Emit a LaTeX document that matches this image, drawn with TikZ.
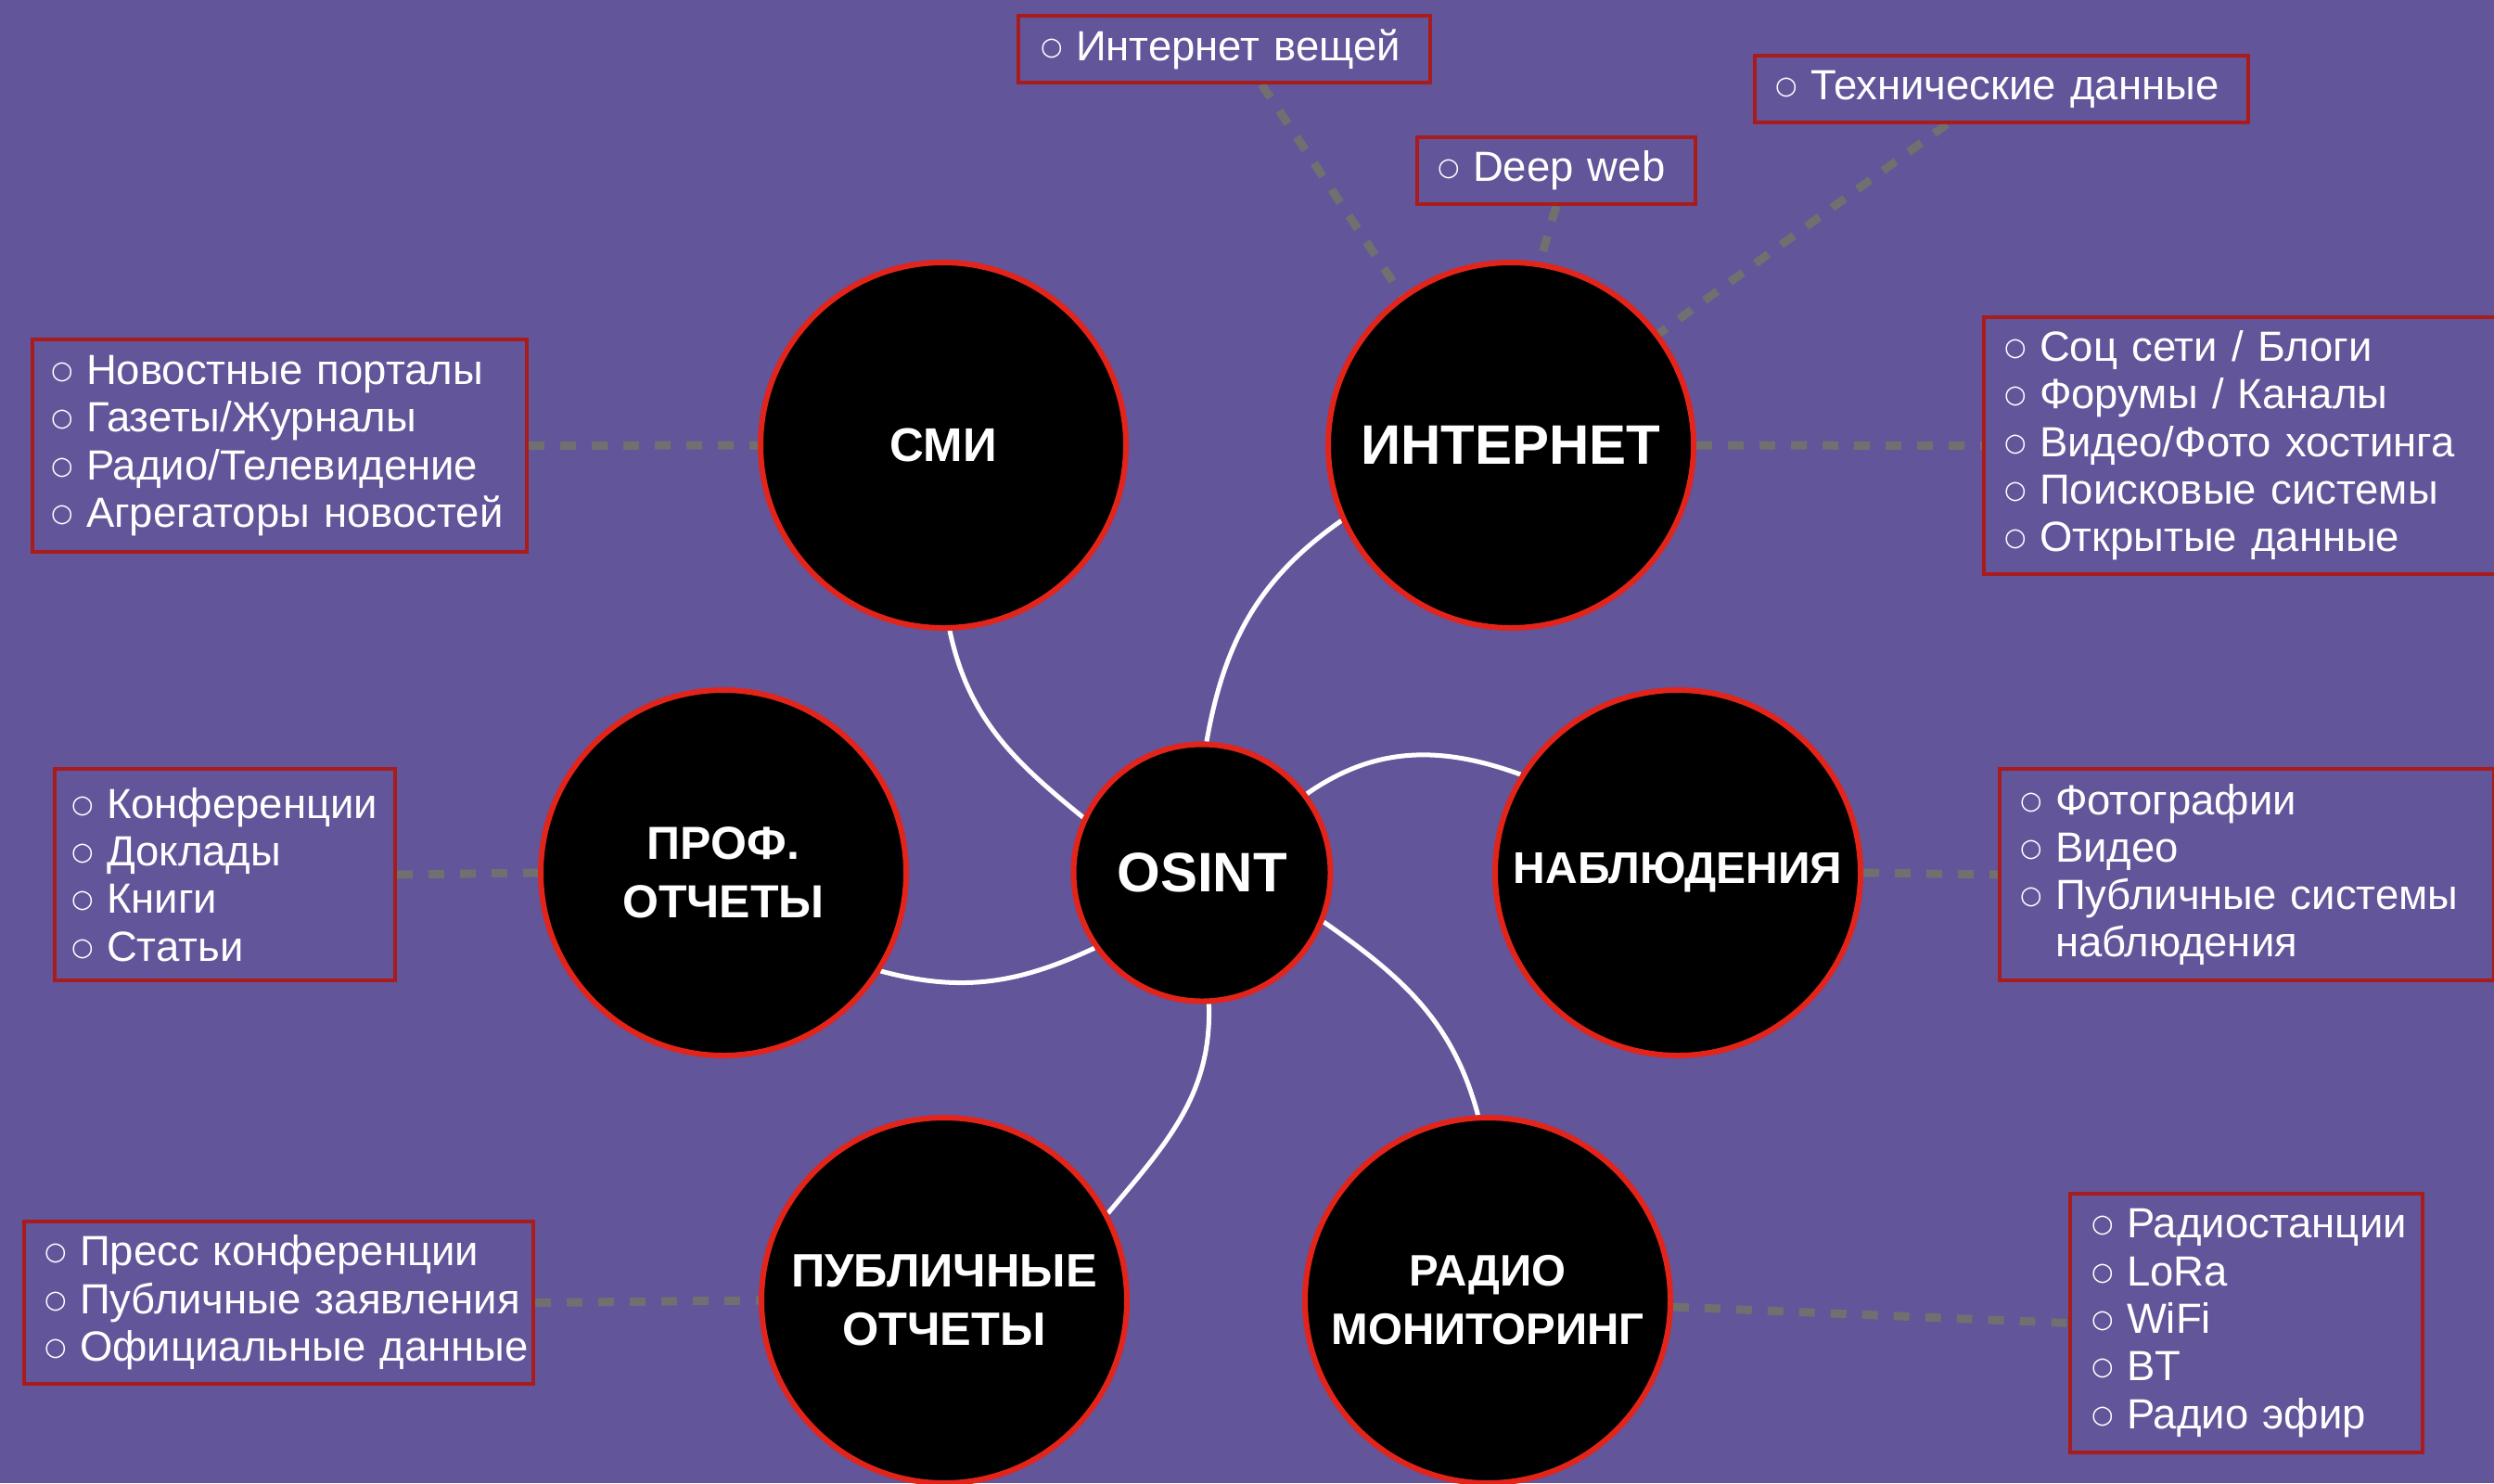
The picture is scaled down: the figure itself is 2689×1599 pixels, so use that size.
\documentclass[tikz,border=0pt]{standalone}
\usepackage{fontspec}
\setmainfont{Liberation Sans}
\newfontfamily\symfont{DejaVu Sans}
\usetikzlibrary{calc}
\definecolor{bgpurple}{RGB}{98,85,154}
\definecolor{ringred}{RGB}{226,36,26}
\definecolor{boxred}{RGB}{168,28,28}
\definecolor{dashgray}{RGB}{112,112,112}
\newcommand\bul{\makebox[36pt][l]{\hspace*{-2pt}\raisebox{6pt}{\symfont\fontsize{27}{27}\selectfont ○}}}
\newcommand\nobul{\makebox[36pt][l]{}}
\pgfdeclarelayer{back}
\pgfdeclarelayer{links}
\pgfsetlayers{back,links,main}
\begin{document}
\begin{tikzpicture}[x=1pt,y=1pt,
  circ/.style={circle, fill=black, draw=ringred, line width=6pt, minimum size=394pt, inner sep=0pt, text=white, align=center},
  listbox/.style={draw=boxred, line width=4pt, text=white, align=left, anchor=north west, inner ysep=0pt, font=\fontsize{45.5}{51.3}\selectfont},
  wire/.style={draw=white, line width=5pt},
  dots/.style={draw=dashgray, line width=9pt, dash pattern=on 17pt off 17pt}
]
\useasboundingbox (0,0) rectangle (2689,-1599);
\clip (0,0) rectangle (2689,-1599);
\begin{pgfonlayer}{back}
\fill[bgpurple] (0,0) rectangle (2689,-1599);
\end{pgfonlayer}

% circles
\node[circ, font=\bfseries\fontsize{51}{63}\selectfont] (smi) at (1017,-480) {СМИ};
\node[circ, font=\bfseries\fontsize{60}{70}\selectfont] (int) at (1629,-480) {ИНТЕРНЕТ};
\node[circ, font=\bfseries\fontsize{50}{63}\selectfont] (prof) at (780,-941) {ПРОФ.\\ОТЧЕТЫ};
\node[circ, minimum size=277pt, font=\bfseries\fontsize{60}{70}\selectfont] (osint) at (1296,-941) {OSINT};
\node[circ, font=\bfseries\fontsize{48}{63}\selectfont] (nabl) at (1809,-941) {НАБЛЮДЕНИЯ};
\node[circ, font=\bfseries\fontsize{50.5}{63}\selectfont] (publ) at (1018,-1402) {ПУБЛИЧНЫЕ\\ОТЧЕТЫ};
\node[circ, font=\bfseries\fontsize{47.5}{63}\selectfont] (radio) at (1604,-1402) {РАДИО\\МОНИТОРИНГ};

% boxes
\node[listbox, minimum width=444pt, minimum height=72pt, text width=392pt, inner xsep=26pt] (iot) at (1096,-15) {\bul Интернет вещей};
\node[listbox, minimum width=300pt, minimum height=72pt, text width=252pt, inner xsep=24pt] (deep) at (1526,-146) {\bul Deep web};
\node[listbox, minimum width=532pt, minimum height=72pt, text width=484pt, inner xsep=24pt] (tech) at (1890,-58) {\bul Технические данные};
\node[listbox, minimum width=533pt, minimum height=229pt, text width=489pt, inner xsep=22pt] (smibox) at (33,-364)
  {\mbox{\bul Новостные порталы}\\\mbox{\bul Газеты/Журналы}\\\mbox{\bul Радио/Телевидение}\\\mbox{\bul Агрегаторы новостей}};
\node[listbox, minimum width=600pt, minimum height=277pt, text width=552pt, inner xsep=24pt] (intbox) at (2137,-340)
  {\mbox{\bul Соц сети / Блоги}\\\mbox{\bul Форумы / Каналы}\\\mbox{\bul Видео/Фото хостинга}\\\mbox{\bul Поисковые системы}\\\mbox{\bul Открытые данные}};
\node[listbox, minimum width=367pt, minimum height=228pt, text width=327pt, inner xsep=20pt] (profbox) at (57,-827)
  {\mbox{\bul Конференции}\\\mbox{\bul Доклады}\\\mbox{\bul Книги}\\\mbox{\bul Статьи}};
\node[listbox, minimum width=533pt, minimum height=228pt, text width=485pt, inner xsep=24pt] (nablbox) at (2154,-827)
  {\mbox{\bul Фотографии}\\\mbox{\bul Видео}\\\mbox{\bul Публичные системы}\\\mbox{\nobul наблюдения}};
\node[listbox, minimum width=549pt, minimum height=175pt, text width=501pt, inner xsep=24pt] (publbox) at (24,-1315)
  {\mbox{\bul Пресс конференции}\\\mbox{\bul Публичные заявления}\\\mbox{\bul Официальные данные}};
\node[listbox, minimum width=380pt, minimum height=279pt, text width=330pt, inner xsep=25pt] (radiobox) at (2230,-1285)
  {\mbox{\bul Радиостанции}\\\mbox{\bul LoRa}\\\mbox{\bul WiFi}\\\mbox{\bul BT}\\\mbox{\bul Радио эфир}};

\begin{pgfonlayer}{links}
% white connectors
\draw[wire] (osint.155) to[out=141, in=-78] (smi.272);
\draw[wire] (osint.88) to[out=80, in=215] (int.204);
\draw[wire] (osint.37) to[out=35, in=160] (nabl.148);
\draw[wire] (osint.215) to[out=205, in=-15] (prof.328);
\draw[wire] (osint.-87) to[out=-88, in=50] (publ.28);
\draw[wire] (osint.-22) to[out=-35, in=105] (radio.93);
% dotted connectors
\draw[dots] (smibox.east) -- (smi.west);
\draw[dots] (int.east) -- (intbox.west);
\draw[dots] (profbox.east) -- (prof.west);
\draw[dots] (nabl.east) -- (nablbox.west);
\draw[dots] (publbox.east) -- (publ.west);
\draw[dots] (radio.-2) -- (radiobox.west);
\draw[dots] ($(iot.south west)!0.59!(iot.south east)$) -- (int.126);
\draw[dots] (deep.south) -- (int.81);
\draw[dots] ($(tech.south west)!0.39!(tech.south east)$) -- (int.37);
\end{pgfonlayer}
\end{tikzpicture}
\end{document}
